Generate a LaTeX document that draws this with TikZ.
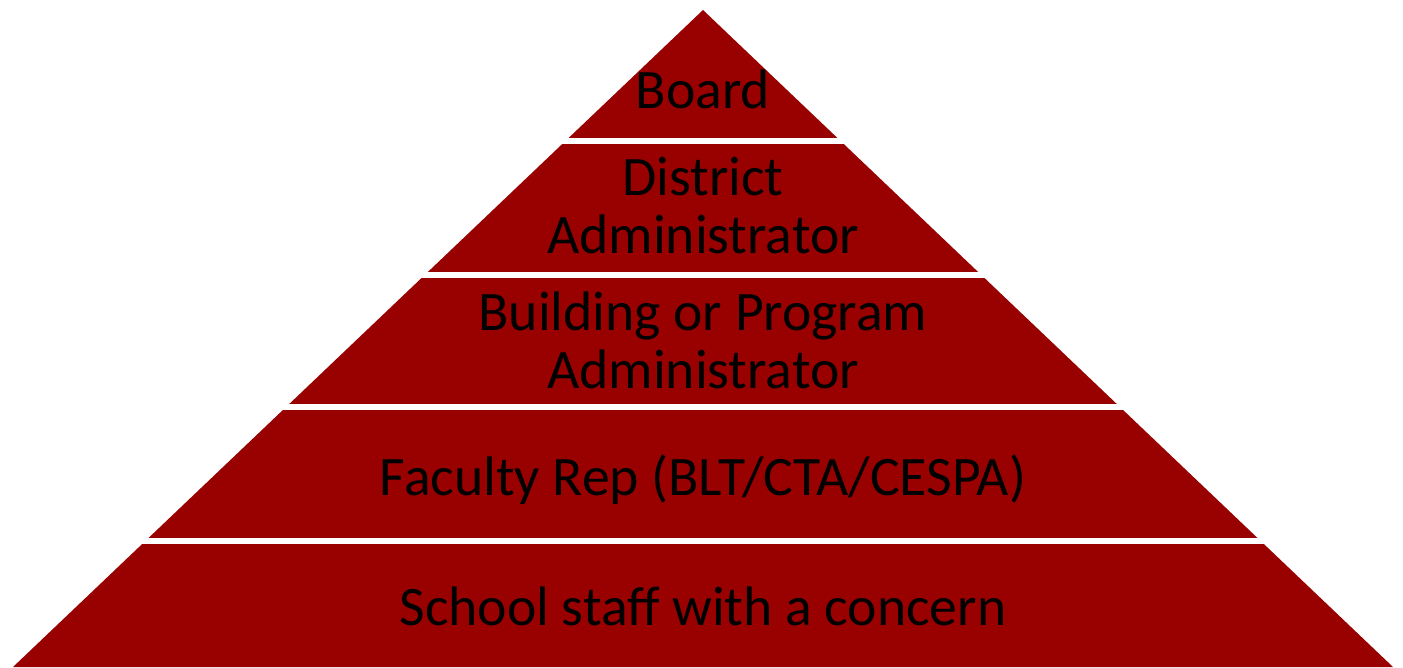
\documentclass[tikz,border=0pt]{standalone}
\usepackage{fontspec}
\setmainfont{Carlito}
\definecolor{pyramidred}{RGB}{153,0,0}

\begin{document}
\begin{tikzpicture}[x=0.02cm,y=-0.02cm,
    layer/.style={font=\fontsize{31.7}{32.7}\selectfont,align=center,text=black,inner sep=0pt,anchor=base},
    gap/.style={white,line width=0.12cm}]
  \useasboundingbox (0,0) rectangle (1403,667);
  \fill[pyramidred] (703,10) -- (13,667) -- (1393,667) -- cycle;
  \foreach \y in {141,275,407,541}
    \draw[gap] (0,\y) -- (1403,\y);

  % base anchor = baseline of the last line
  \node[layer] (board) at (703,108) {Board};
  \node[layer] (district) at (703,253) {District\\Administrator};
  \node[layer] (building) at (703,388) {Building or Program\\Administrator};
  \node[layer] (faculty) at (703,495) {Faculty Rep (BLT/CTA/CESPA)};
  \node[layer] (staff) at (703,625) {School staff with a concern};
\end{tikzpicture}
\end{document}
